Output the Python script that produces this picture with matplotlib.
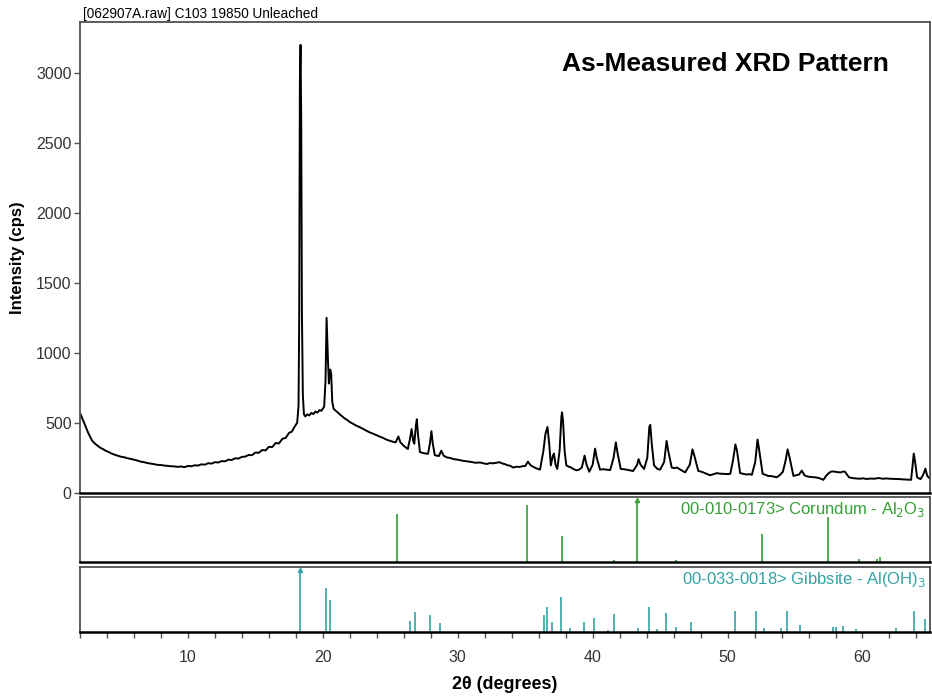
#!/usr/bin/env python3
"""As-measured XRD pattern with Corundum / Gibbsite reference stick patterns."""
import matplotlib
matplotlib.use("Agg")
import matplotlib.pyplot as plt  # noqa: E402

plt.rcParams["font.family"] = ["Liberation Sans", "DejaVu Sans"]

# measured pattern as (2theta deg, counts per second)
scan = [
    (2.05, 560), (2.3, 500), (2.6, 430), (2.9, 372), (3.1, 352), (3.3, 336),
    (3.5, 322), (3.7, 312), (3.9, 300), (4.1, 292), (4.3, 282), (4.5, 274),
    (4.75, 266), (5.0, 258), (5.25, 254), (5.5, 247), (5.75, 242), (6.0, 236),
    (6.25, 230), (6.5, 222), (6.75, 218), (7.0, 212), (7.25, 208), (7.5, 204),
    (7.75, 199), (8.0, 198), (8.25, 194), (8.5, 192), (8.75, 189), (9.0, 188),
    (9.25, 185), (9.5, 187), (9.75, 183), (10.0, 191), (10.25, 189),
    (10.5, 196), (10.75, 194), (11.0, 203), (11.25, 200), (11.5, 211),
    (11.75, 208), (12.0, 218), (12.25, 216), (12.5, 226), (12.75, 224),
    (13.0, 236), (13.25, 234), (13.5, 246), (13.75, 244), (14.0, 256),
    (14.25, 258), (14.5, 270), (14.75, 268), (15.0, 287), (15.25, 285),
    (15.5, 305), (15.75, 302), (16.0, 328), (16.25, 326), (16.5, 355),
    (16.75, 352), (17.0, 385), (17.25, 392), (17.5, 428), (17.7, 436),
    (17.9, 470), (18.1, 500), (18.2, 620), (18.25, 1250), (18.3, 2950),
    (18.35, 3200), (18.4, 2650), (18.45, 1300), (18.52, 700), (18.6, 560),
    (18.7, 545), (18.85, 560), (19.0, 552), (19.15, 570), (19.3, 562),
    (19.45, 580), (19.6, 572), (19.75, 590), (19.9, 585), (20.1, 615),
    (20.2, 800), (20.28, 1250), (20.38, 950), (20.45, 780), (20.55, 880),
    (20.62, 850), (20.7, 650), (20.8, 600), (21.0, 582), (21.15, 570),
    (21.3, 556), (21.45, 545), (21.6, 532), (21.8, 520), (22.0, 505),
    (22.25, 492), (22.5, 478), (22.75, 468), (23.0, 455), (23.25, 442),
    (23.5, 430), (23.75, 421), (24.0, 410), (24.25, 400), (24.5, 390),
    (24.75, 378), (25.0, 370), (25.2, 364), (25.4, 360), (25.6, 402),
    (25.75, 360), (26.0, 335), (26.3, 312), (26.45, 380), (26.58, 455),
    (26.7, 370), (26.78, 350), (26.9, 480), (26.97, 525), (27.05, 420),
    (27.2, 290), (27.5, 282), (27.8, 278), (27.95, 360), (28.05, 440),
    (28.15, 350), (28.3, 268), (28.6, 262), (28.78, 300), (28.95, 265),
    (29.2, 252), (29.45, 248), (29.7, 240), (30.0, 236), (30.4, 228),
    (30.7, 224), (31.0, 220), (31.3, 214), (31.65, 216), (31.9, 210),
    (32.15, 205), (32.4, 212), (32.6, 210), (32.85, 214), (33.1, 218),
    (33.3, 209), (33.5, 204), (33.7, 196), (33.9, 192), (34.1, 180),
    (34.35, 186), (34.6, 184), (34.8, 190), (35.0, 190), (35.2, 222),
    (35.4, 196), (35.6, 185), (35.8, 175), (36.1, 165), (36.35, 300),
    (36.5, 420), (36.65, 470), (36.78, 350), (36.9, 195), (37.05, 265),
    (37.13, 280), (37.25, 200), (37.38, 170), (37.55, 300), (37.68, 540),
    (37.73, 575), (37.8, 520), (37.92, 300), (38.05, 195), (38.25, 185),
    (38.4, 180), (38.6, 168), (38.8, 160), (39.0, 165), (39.2, 180),
    (39.4, 265), (39.55, 200), (39.75, 150), (40.0, 200), (40.18, 315),
    (40.3, 250), (40.55, 165), (40.8, 168), (41.0, 165), (41.3, 162),
    (41.55, 250), (41.72, 360), (41.85, 280), (42.08, 170), (42.3, 168),
    (42.5, 165), (42.75, 160), (43.0, 155), (43.3, 200), (43.4, 240),
    (43.55, 200), (43.81, 170), (44.05, 250), (44.2, 470), (44.27, 485),
    (44.38, 350), (44.55, 195), (44.8, 170), (45.0, 165), (45.3, 220),
    (45.48, 370), (45.6, 300), (45.86, 180), (46.05, 175), (46.25, 180),
    (46.5, 165), (46.85, 145), (47.2, 200), (47.4, 310), (47.55, 260),
    (47.83, 155), (48.0, 152), (48.2, 145), (48.45, 135), (48.7, 125),
    (48.95, 132), (49.2, 140), (49.45, 136), (49.7, 135), (49.95, 133),
    (50.2, 135), (50.4, 230), (50.58, 345), (50.7, 300), (50.93, 140),
    (51.15, 135), (51.4, 130), (51.6, 133), (51.8, 128), (52.05, 220),
    (52.22, 380), (52.32, 320), (52.6, 135), (52.8, 128), (53.0, 120),
    (53.3, 118), (53.64, 110), (53.9, 128), (54.1, 150), (54.3, 230),
    (54.45, 310), (54.6, 250), (54.88, 120), (55.1, 125), (55.3, 130),
    (55.5, 158), (55.7, 125), (55.9, 116), (56.2, 112), (56.5, 110),
    (56.8, 104), (57.1, 92), (57.3, 120), (57.5, 140), (57.65, 150),
    (57.8, 152), (57.95, 150), (58.1, 148), (58.25, 146), (58.4, 145),
    (58.55, 152), (58.7, 150), (58.85, 130), (59.0, 110), (59.25, 105),
    (59.5, 102), (59.8, 100), (60.05, 103), (60.3, 98), (60.6, 101),
    (60.9, 100), (61.2, 105), (61.5, 100), (61.75, 102), (62.0, 100),
    (62.3, 99), (62.55, 98), (62.8, 97), (63.05, 95), (63.3, 94), (63.6, 92),
    (63.72, 200), (63.8, 280), (63.9, 220), (64.05, 110), (64.3, 97),
    (64.45, 120), (64.55, 140), (64.66, 172), (64.8, 120), (65.0, 100),
]
two_theta = [p[0] for p in scan]
counts = [p[1] for p in scan]

# reference sticks (2theta, relative intensity)
corundum_pos = [25.47, 35.14, 37.73, 41.61, 43.3, 46.18, 52.53, 57.45, 59.75,
                61.06, 61.3]
corundum_int = [78, 92, 43, 3, 100, 3, 46, 74, 5, 6, 9]
gibbsite_pos = [18.29, 20.26, 20.51, 26.44, 26.86, 27.97, 28.69, 36.37, 36.62,
                37.01, 37.66, 38.3, 39.34, 40.1, 41.17, 41.61, 43.39, 44.18,
                44.75, 45.44, 46.18, 47.27, 50.53, 52.11, 52.68, 53.94, 54.41,
                55.37, 57.84, 58.04, 58.56, 59.5, 62.51, 63.8, 64.66]
gibbsite_int = [100, 72, 52, 18, 32, 27, 14, 27, 41, 16, 57, 6, 16, 22, 3, 29,
                6, 41, 4, 31, 8, 16, 33, 33, 6, 6, 33, 11, 8, 8, 10, 4, 6, 33, 21]

corundum_label = "00-010-0173> Corundum - Al$_2$O$_3$"
gibbsite_label = "00-033-0018> Gibbsite - Al(OH)$_3$"

GREEN = "#35a035"
TEAL = "#33a3a3"
BOX = "#505050"

fig = plt.figure(figsize=(9.32, 6.98), dpi=100)
ax = fig.add_axes([0.0858, 0.2941, 0.912, 0.6737])
ax_c = fig.add_axes([0.0858, 0.1944, 0.912, 0.0940])
ax_g = fig.add_axes([0.0858, 0.0950, 0.912, 0.0931])

ax.plot(two_theta, counts, color="black", lw=1.4)
ax.set_xlim(2, 65)
ax.set_ylim(0, 3360)
ax.set_yticks([0, 500, 1000, 1500, 2000, 2500, 3000])
ax.set_xticks([])
ax.tick_params(axis="y", direction="out", length=4, width=1, color=BOX,
               labelsize=11.5, labelcolor="#333333", pad=2)
ax.set_ylabel("Intensity (cps)", fontsize=12, fontweight="bold", labelpad=8)
ax.text(0.003, 1.004, "[062907A.raw] C103 19850 Unleached",
        transform=ax.transAxes, fontsize=9.8, ha="left", va="bottom")
ax.text(0.952, 0.912, "As-Measured XRD Pattern", transform=ax.transAxes,
        fontsize=19, fontweight="bold", ha="right", va="center")

for a, pos, ints, col, label in [
        (ax_c, corundum_pos, corundum_int, GREEN, corundum_label),
        (ax_g, gibbsite_pos, gibbsite_int, TEAL, gibbsite_label)]:
    a.vlines(pos, 0, ints, colors=col, lw=1.2)
    top = ints.index(max(ints))
    a.plot(pos[top], ints[top], marker="^", ms=3, color=col)
    a.set_xlim(2, 65)
    a.set_ylim(0, 106)
    a.set_yticks([])
    a.text(0.995, 0.8, label, transform=a.transAxes, color=col,
           fontsize=12, ha="right", va="center")

ax_c.set_xticks([])
ax_g.set_xticks(range(2, 66, 2), minor=True)
ax_g.set_xticks([10, 20, 30, 40, 50, 60])
ax_g.tick_params(axis="x", which="both", direction="out", length=4, width=1,
                 color=BOX, labelsize=11.5, labelcolor="#333333", pad=9)
ax_g.set_xlabel("2θ (degrees)", fontsize=13, fontweight="bold", labelpad=8)

for a in (ax, ax_c, ax_g):
    for s in a.spines.values():
        s.set_color(BOX)
        s.set_linewidth(1.3)
    a.spines["bottom"].set_color("black")
    a.spines["bottom"].set_linewidth(1.8)

fig.savefig("out.png", dpi=100)
